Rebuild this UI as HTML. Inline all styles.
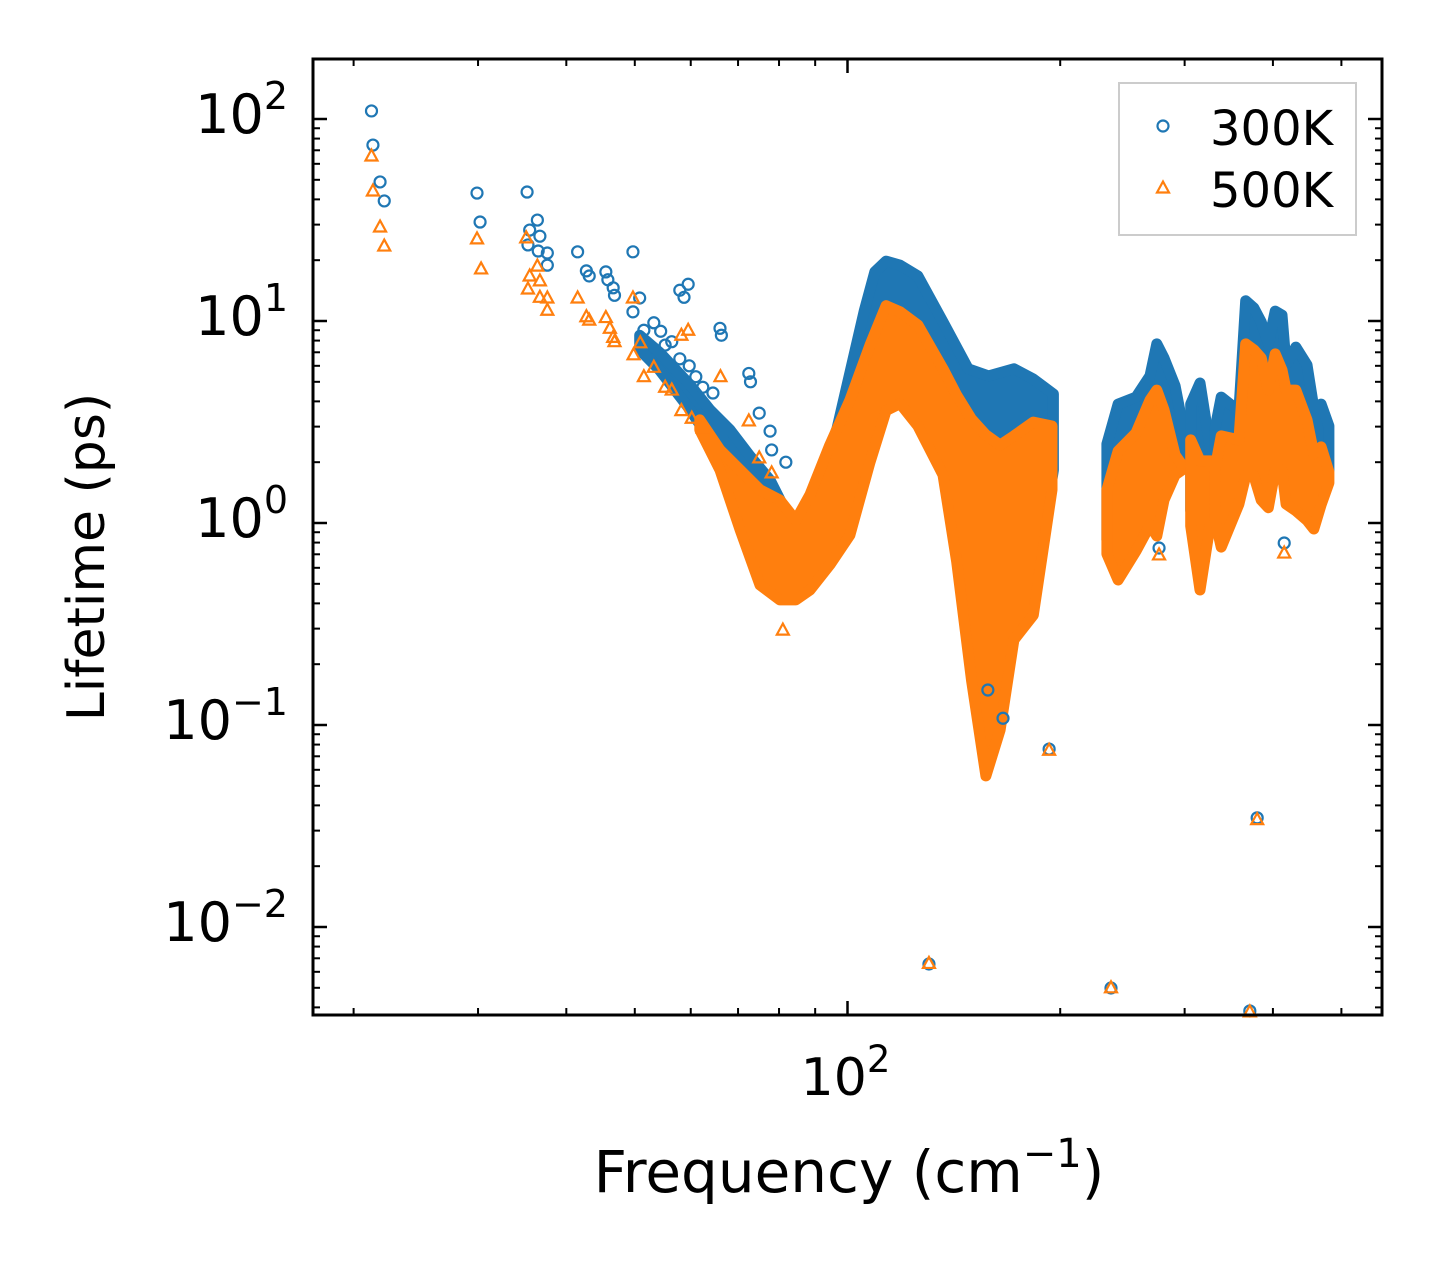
<!DOCTYPE html>
<html><head><meta charset="utf-8">
<style>
html,body{margin:0;padding:0;background:#fff;}
svg{display:block;font-family:"DejaVu Sans","Liberation Sans",sans-serif;}
</style></head>
<body>
<svg id="chart" width="1442" height="1265" viewBox="0 0 1442 1265" xmlns="http://www.w3.org/2000/svg">
<rect width="1442" height="1265" fill="#fff"/>
<g id="bands"></g>
<g id="points"></g>
<g id="axes"></g>
</svg>
<script>
// ---- scattered points (frequency cm^-1, lifetime ps) ----
const blueFreq = [21.2,21.3,21.8,22.1,29.9,30.2,35.2,36.4,35.5,36.7,35.3,36.5,37.6,37.6,41.5,42.7,43.1,45.5,45.8,46.6,46.8,49.7,50.8,49.7,51.5,53.2,54.4,55.2,56.4,57.9,59.5,58.7,57.9,59.7,61.0,62.4,64.5,66.0,66.3,72.5,72.9,75.0,77.7,78.1,81.8,130.4,236,371,380,192.9,276,415,166,158];
const blueLife = [109.6,74.3,48.8,39.3,43.0,30.9,43.5,31.6,28.2,26.3,23.8,22.2,21.7,18.9,22.0,17.7,16.7,17.5,16.0,14.6,13.4,22.0,13.0,11.1,9.0,9.8,8.9,7.6,7.9,14.2,15.2,13.1,6.5,6.0,5.3,4.7,4.4,9.2,8.5,5.5,5.0,3.5,2.85,2.3,2.0,0.00656,0.00499,0.00384,0.0347,0.076,0.752,0.796,0.108,0.149];
const orangeFreq = [21.2,21.3,21.8,22.1,29.9,30.3,35.1,36.4,35.5,36.7,35.3,36.7,37.6,37.6,41.5,42.7,43.1,45.5,46.1,46.6,46.8,49.7,50.9,49.8,51.5,53.2,55.2,56.4,58.2,59.5,58.2,60.2,62.4,66.1,72.5,75.0,78.1,81.0,130.4,236,371,380,192.9,276,415];
const orangeLife = [65.6,44.0,29.2,23.5,25.5,18.1,25.8,18.7,16.7,15.8,14.4,13.1,13.0,11.3,13.0,10.5,10.1,10.4,9.2,8.3,7.9,13.0,7.8,6.8,5.3,5.9,4.7,4.55,8.5,9.0,3.6,3.3,2.95,5.3,3.2,2.1,1.77,0.295,0.0066,0.0050,0.0038,0.034,0.075,0.695,0.71];

// ---- dense band envelopes ----
const blueBandAFreq = [50.8,54.2,59.9,63.9,68.2,72.6,77.7,81.6,84.5,88.5,96.6,105.6,109.3,113.4,118.7,125.8,136.5,148.2,158.4,172.0,183.2,195.6];
const blueBandAUpper = [8.5,7.0,4.82,3.63,2.89,2.17,1.63,1.16,0.913,1.23,2.92,11.2,17.5,19.8,18.9,16.7,9.9,5.8,5.35,5.8,5.16,4.35];
const blueBandALower = [7.2,5.72,3.63,2.58,1.83,1.30,0.923,0.778,0.656,0.824,1.16,2.58,4.06,4.55,4.55,3.24,1.83,0.331,0.0843,0.264,0.416,1.83];
const orangeBandAFreq = [61.8,66.0,70.5,75.2,80.2,84.5,88.5,94.4,100.8,107.6,113.4,118.7,125.8,136.5,142.7,149.8,157.0,164.4,172.0,183.2,194.7];
const orangeBandAUpper = [3.24,2.30,1.83,1.46,1.30,1.03,1.38,2.43,4.06,7.6,11.9,11.1,9.55,5.8,4.3,3.27,2.73,2.43,2.70,3.16,3.02];
const orangeBandALower = [2.89,1.83,0.923,0.493,0.416,0.416,0.466,0.62,0.872,2.0,3.6,3.9,3.02,1.73,0.648,0.167,0.056,0.0945,0.264,0.35,1.46];

const bandB1Freq = [232.9,241.5,256,268,274,280.5,290.8,297.5];
const blueB1Upper = [2.46,3.88,4.2,5.35,7.7,6.56,4.77,3.16];
const blueB1Lower = [0.824,0.656,0.824,1.16,1.03,1.46,1.94,2.05];
const orangeB1Upper = [1.46,2.27,2.79,4.06,4.55,3.63,2.17,1.94];
const orangeB1Lower = [0.703,0.522,0.727,0.977,0.862,1.30,1.73,1.83];

const bandB2Freq = [306,315.4,327];
const blueB2Upper = [3.88,4.93,2.2];
const blueB2Lower = [1.16,0.585,1.23];
const orangeB2Upper = [2.58,2.03,2.03];
const orangeB2Lower = [0.966,0.466,1.05];

const bandB3Freq = [331,338,358,366,376,385,394,403,412,417.5,431,447,457,468,480];
const blueB3Upper = [2.89,4.2,3.58,12.6,11.6,9.9,7.7,11.2,10.7,6.06,7.43,6.06,3.71,3.88,3.02];
const blueB3Lower = [1.23,0.923,1.46,2.05,2.05,1.54,1.38,2.17,2.17,1.46,1.38,1.23,1.10,1.46,1.83];
const orangeB3Upper = [1.83,2.70,2.58,7.7,7.2,6.56,4.55,6.87,5.72,4.55,4.55,3.24,2.2,2.38,1.79];
const orangeB3Lower = [1.05,0.76,1.24,1.71,1.71,1.30,1.19,1.83,1.83,1.24,1.15,1.03,0.934,1.23,1.58];

const yTickExps = [2,1,0,-1,-2];
const xMinorTicks = [20,30,40,50,60,70,80,90,200,300,400,500];
const xMajorTicks = [100];

// ---- axes ----
const PL=313, PR=1382, PT=59, PB=1015;
const X0=847.5, XD=706.6, Y0=523, YD=202;
function xs(f){ return X0 + XD*Math.log10(f/100); }
function ys(v){ return Y0 - YD*Math.log10(v); }
const NS="http://www.w3.org/2000/svg";
const BLUE="#1f77b4", ORANGE="#ff7f0e";
function mk(tag, attrs, parent){
  const e=document.createElementNS(NS,tag);
  for(const k in attrs) e.setAttribute(k, attrs[k]);
  parent.appendChild(e); return e;
}
const bands=document.getElementById('bands');
const pts=document.getElementById('points');
const axes=document.getElementById('axes');

function band(freq, up, lo, color, name){
  let d='';
  for(let i=0;i<freq.length;i++) d += (i?'L':'M')+xs(freq[i]).toFixed(1)+','+ys(up[i]).toFixed(1);
  for(let i=freq.length-1;i>=0;i--) d += 'L'+xs(freq[i]).toFixed(1)+','+ys(lo[i]).toFixed(1);
  d+='Z';
  const p=mk('path',{d:d,fill:color,stroke:color,'stroke-width':11,'stroke-linejoin':'round'},bands);
  
  
}
function circ(f,v,parent){
  const c=mk('circle',{cx:xs(f),cy:ys(v),r:5.5,fill:'none',stroke:BLUE,'stroke-width':2.2},parent);
  
  
}
function tri(f,v,parent){
  const x=xs(f), y=ys(v);
  const t=mk('polygon',{points:`${x},${y-6.5} ${x-6},${y+4.5} ${x+6},${y+4.5}`,fill:'none',stroke:ORANGE,'stroke-width':2.2,'stroke-linejoin':'miter'},parent);
  
  
}

band(blueBandAFreq, blueBandAUpper, blueBandALower, BLUE, 'band-300k-a');
band(bandB1Freq, blueB1Upper, blueB1Lower, BLUE, 'band-300k-b1');
band(bandB2Freq, blueB2Upper, blueB2Lower, BLUE, 'band-300k-b2');
band(bandB3Freq, blueB3Upper, blueB3Lower, BLUE, 'band-300k-b3');
for(let i=0;i<blueFreq.length;i++) circ(blueFreq[i], blueLife[i], pts);
band(orangeBandAFreq, orangeBandAUpper, orangeBandALower, ORANGE, 'band-500k-a');
band(bandB1Freq, orangeB1Upper, orangeB1Lower, ORANGE, 'band-500k-b1');
band(bandB2Freq, orangeB2Upper, orangeB2Lower, ORANGE, 'band-500k-b2');
band(bandB3Freq, orangeB3Upper, orangeB3Lower, ORANGE, 'band-500k-b3');
for(let i=0;i<orangeFreq.length;i++) tri(orangeFreq[i], orangeLife[i], pts);

const fr=mk('rect',{x:PL,y:PT,width:PR-PL,height:PB-PT,fill:'none',stroke:'#000','stroke-width':3},axes);



for(const e of yTickExps){
  const y=ys(Math.pow(10,e));
  mk('line',{x1:PL,x2:PL+14,y1:y,y2:y,stroke:'#000','stroke-width':2.5},axes);
  mk('line',{x1:PR,x2:PR-14,y1:y,y2:y,stroke:'#000','stroke-width':2.5},axes);
  const t=mk('text',{x:288,y:y+14,'font-size':54,'text-anchor':'end',fill:'#000'},axes);
  
  
  t.innerHTML='10<tspan dy="-24" font-size="38">'+(e<0?'\u2212'+(-e):e)+'</tspan>';
}
for(let e=-3;e<=2;e++){
  for(let m=2;m<=9;m++){
    const y=ys(m*Math.pow(10,e));
    if(y<PT||y>PB) continue;
    mk('line',{x1:PL,x2:PL+7,y1:y,y2:y,stroke:'#000','stroke-width':2},axes);
    mk('line',{x1:PR,x2:PR-7,y1:y,y2:y,stroke:'#000','stroke-width':2},axes);
  }
}
for(const f of xMinorTicks){
  const x=xs(f);
  mk('line',{x1:x,x2:x,y1:PB,y2:PB-7,stroke:'#000','stroke-width':2},axes);
  mk('line',{x1:x,x2:x,y1:PT,y2:PT+7,stroke:'#000','stroke-width':2},axes);
}
for(const f of xMajorTicks){
  const x=xs(f);
  mk('line',{x1:x,x2:x,y1:PB,y2:PB-14,stroke:'#000','stroke-width':2.5},axes);
  mk('line',{x1:x,x2:x,y1:PT,y2:PT+14,stroke:'#000','stroke-width':2.5},axes);
  const t=mk('text',{x:x-2,y:1095,'font-size':52,'text-anchor':'middle',fill:'#000'},axes);
  
  
  t.innerHTML='10<tspan dy="-23" font-size="37">2</tspan>';
}
</script>
<svg style="position:absolute;left:0;top:0" width="1442" height="1265" xmlns="http://www.w3.org/2000/svg" font-family="DejaVu Sans, Liberation Sans, sans-serif">
<text x="849" y="1192" font-size="58" text-anchor="middle">Frequency (cm<tspan dy="-25" font-size="40">−1</tspan><tspan dy="25">)</tspan></text>
<text transform="translate(104,557) rotate(-90)" font-size="52" text-anchor="middle">Lifetime (ps)</text>
<g>
<rect x="1119" y="83" width="237" height="152" fill="#fff" stroke="#ccc" stroke-width="2"/>
<circle cx="1163" cy="126" r="5.5" fill="none" stroke="#1f77b4" stroke-width="2.2"/>
<text x="1210" y="145" font-size="48">300K</text>
<polygon points="1163,181.5 1157,192.5 1169,192.5" fill="none" stroke="#ff7f0e" stroke-width="2.2"/>
<text x="1210" y="207" font-size="48">500K</text>
</g>
</svg>
</body></html>
